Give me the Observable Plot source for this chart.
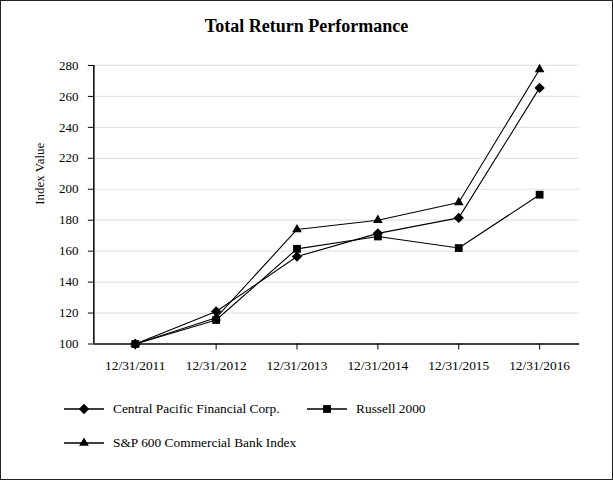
<!DOCTYPE html>
<html><head><meta charset="utf-8">
<script src="https://cdn.jsdelivr.net/npm/d3@7"></script>
<script src="https://cdn.jsdelivr.net/npm/@observablehq/plot@0.6"></script>
<style>
body{margin:0;background:#fff;}
#frame{position:relative;width:611px;height:478px;border:1px solid #222;background:#fff;font-family:"Liberation Serif","Times New Roman",serif;overflow:hidden;}
#title{position:absolute;top:15px;left:0;width:611px;text-align:center;font-size:18px;font-weight:bold;color:#000;}
#chart{position:absolute;top:43px;left:-1px;}
.leg{position:absolute;display:flex;align-items:center;font-size:13.4px;color:#000;}
.leg svg{margin-right:8px;}
</style></head>
<body><div id="frame"><div id="title">Total Return Performance</div><div id="chart"></div><div id="legend"></div></div>
<script>
const dates = ["12/31/2011","12/31/2012","12/31/2013","12/31/2014","12/31/2015","12/31/2016"];
const seriesNames = ["Central Pacific Financial Corp.","Russell 2000","S&P 600 Commercial Bank Index"];
const cpf = [100, 121, 156.5, 171.5, 181.5, 265.5];
const russell = [100, 115.5, 161.5, 169.5, 162, 196.5];
const sp600 = [100, 117, 174, 180, 191.5, 277.5];
const yTicks = [100,120,140,160,180,200,220,240,260,280];

const diamondSym = {draw(ctx, size){ const r = Math.sqrt(size/Math.PI); ctx.moveTo(0,-r); ctx.lineTo(r,0); ctx.lineTo(0,r); ctx.lineTo(-r,0); ctx.closePath(); }};
const symbols = [diamondSym, d3.symbolSquare, d3.symbolTriangle];
const radii = [5.2, 4.4, 3.6];

const all = [cpf, russell, sp600];
const data = [];
all.forEach((arr, s) => arr.forEach((v, i) => data.push({series: seriesNames[s], s, date: dates[i], value: v})));

const marks = [
  Plot.ruleY(yTicks.slice(1), {stroke:"#e4e4e4", strokeWidth:1.2}),
  Plot.axisY({ticks: yTicks, tickSize:6, tickPadding:10, fontSize:13, label:null}),
  Plot.axisX({tickSize:6, tickPadding:11, fontSize:13.4, label:null}),
  Plot.ruleY([100], {stroke:"#000", strokeWidth:1.5}),
];
all.forEach((arr, s) => {
  const d = data.filter(r => r.s === s);
  marks.push(Plot.line(d, {x:"date", y:"value", stroke:"#000", strokeWidth:1.1}));
  marks.push(Plot.dot(d, {x:"date", y:"value", symbol: symbols[s], r: radii[s], fill:"#000", stroke:"none"}));
});
marks.push(Plot.text(["Index Value"], {frameAnchor:"left", dx:-55, rotate:-90, fontSize:13, text: d => d}));

const plot = Plot.plot({
  width: 613, height: 330,
  marginLeft: 94, marginRight: 33, marginTop: 21, marginBottom: 30,
  style: {fontFamily: '"Liberation Serif","Times New Roman",serif', color:"#000", background:"#fff", overflow:"visible"},
  x: {type:"point", domain: dates, padding:0.5},
  y: {domain:[100,280]},
  marks
});
// vertical axis line
d3.select(plot).append("line").attr("x1",94).attr("x2",94).attr("y1",21).attr("y2",300).attr("stroke","#000").attr("stroke-width",1.5);
document.getElementById("chart").appendChild(plot);

// legend
const legPos = [[62,400],[305,400],[62,434]];
const leg = document.getElementById("legend");
seriesNames.forEach((name, s) => {
  const div = document.createElement("div");
  div.className = "leg";
  div.style.left = legPos[s][0] + "px";
  div.style.top = legPos[s][1] + "px";
  const svg = d3.create("svg").attr("width",42).attr("height",16);
  svg.append("line").attr("x1",1).attr("x2",41).attr("y1",8).attr("y2",8).attr("stroke","#000").attr("stroke-width",1.3);
  const r = radii[s];
  svg.append("path").attr("transform","translate(21,8)").attr("d", d3.symbol(symbols[s], Math.PI*r*r)()).attr("fill","#000");
  div.appendChild(svg.node());
  const t = document.createElement("span"); t.textContent = name; div.appendChild(t);
  leg.appendChild(div);
});
</script></body></html>
